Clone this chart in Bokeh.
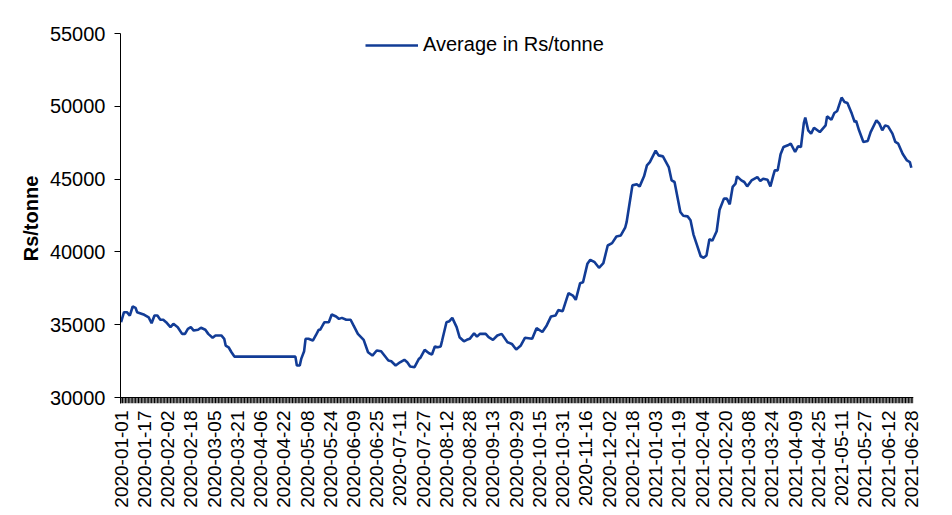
import pandas as pd
from bokeh.plotting import figure
from bokeh.models import Range1d, FixedTicker, Legend, LegendItem, ColumnDataSource, Span
from bokeh.embed import file_html
from bokeh.resources import INLINE

# ---- data ----
dates = [
    "2020-01-01", "2020-01-03", "2020-01-05", "2020-01-07", "2020-01-09", "2020-01-11", "2020-01-12",
    "2020-01-14", "2020-01-17", "2020-01-20", "2020-01-22", "2020-01-24", "2020-01-26", "2020-01-28",
    "2020-01-30", "2020-02-01", "2020-02-04", "2020-02-06", "2020-02-09", "2020-02-12", "2020-02-14",
    "2020-02-16", "2020-02-18", "2020-02-20", "2020-02-23", "2020-02-25", "2020-02-28", "2020-03-01",
    "2020-03-04", "2020-03-06", "2020-03-10", "2020-03-12", "2020-03-13", "2020-03-15", "2020-03-17",
    "2020-03-19", "2020-04-30", "2020-05-01", "2020-05-03", "2020-05-04", "2020-05-06", "2020-05-07",
    "2020-05-09", "2020-05-12", "2020-05-14", "2020-05-16", "2020-05-17", "2020-05-20", "2020-05-23",
    "2020-05-25", "2020-05-28", "2020-05-30", "2020-06-01", "2020-06-04", "2020-06-07", "2020-06-09",
    "2020-06-12", "2020-06-16", "2020-06-19", "2020-06-22", "2020-06-25", "2020-06-28", "2020-07-03",
    "2020-07-05", "2020-07-08", "2020-07-11", "2020-07-14", "2020-07-16", "2020-07-18", "2020-07-21",
    "2020-07-24", "2020-07-25", "2020-07-28", "2020-07-31", "2020-08-02", "2020-08-04", "2020-08-06",
    "2020-08-08", "2020-08-09", "2020-08-12", "2020-08-14", "2020-08-16", "2020-08-19", "2020-08-21",
    "2020-08-24", "2020-08-26", "2020-08-28", "2020-08-31", "2020-09-02", "2020-09-04", "2020-09-08",
    "2020-09-10", "2020-09-13", "2020-09-16", "2020-09-19", "2020-09-23", "2020-09-26", "2020-09-29",
    "2020-10-02", "2020-10-05", "2020-10-10", "2020-10-13", "2020-10-17", "2020-10-20", "2020-10-23",
    "2020-10-26", "2020-10-28", "2020-10-31", "2020-11-04", "2020-11-07", "2020-11-09", "2020-11-12",
    "2020-11-14", "2020-11-17", "2020-11-19", "2020-11-22", "2020-11-25", "2020-11-28", "2020-12-01",
    "2020-12-04", "2020-12-07", "2020-12-10", "2020-12-13", "2020-12-14", "2020-12-16", "2020-12-18",
    "2020-12-21", "2020-12-23", "2020-12-26", "2020-12-28", "2020-12-30", "2021-01-03", "2021-01-05",
    "2021-01-08", "2021-01-12", "2021-01-14", "2021-01-16", "2021-01-20", "2021-01-22", "2021-01-25",
    "2021-01-27", "2021-01-29", "2021-01-31", "2021-02-03", "2021-02-05", "2021-02-07", "2021-02-09",
    "2021-02-11", "2021-02-14", "2021-02-16", "2021-02-19", "2021-02-21", "2021-02-23", "2021-02-25",
    "2021-02-27", "2021-02-28", "2021-03-03", "2021-03-05", "2021-03-07", "2021-03-10", "2021-03-14",
    "2021-03-16", "2021-03-18", "2021-03-21", "2021-03-23", "2021-03-25", "2021-03-26", "2021-03-28",
    "2021-03-30", "2021-04-01", "2021-04-04", "2021-04-06", "2021-04-09", "2021-04-11", "2021-04-13",
    "2021-04-15", "2021-04-16", "2021-04-18", "2021-04-20", "2021-04-22", "2021-04-26", "2021-04-30",
    "2021-05-01", "2021-05-04", "2021-05-06", "2021-05-08", "2021-05-11", "2021-05-13", "2021-05-15",
    "2021-05-18", "2021-05-20", "2021-05-21", "2021-05-23", "2021-05-26", "2021-05-29", "2021-05-31",
    "2021-06-04", "2021-06-06", "2021-06-08", "2021-06-10", "2021-06-12", "2021-06-15", "2021-06-17",
    "2021-06-19", "2021-06-22", "2021-06-25", "2021-06-27", "2021-06-28",
]
average_rs_per_tonne = [
    35170, 35860, 35860, 35630, 36250, 36160, 35860,
    35790, 35680, 35500, 35100, 35630, 35630, 35340,
    35340, 35170, 34830, 35060, 34830, 34370, 34370,
    34720, 34830, 34600, 34650, 34790, 34650, 34370,
    34100, 34260, 34260, 34030, 33570, 33450, 33110,
    32810, 32810, 32200, 32200, 32650, 33180, 34030,
    34030, 33910, 34260, 34650, 34650, 35170, 35170,
    35700, 35560, 35400, 35470, 35340, 35340, 34950,
    34370, 33960, 33110, 32880, 33230, 33180, 32540,
    32490, 32200, 32420, 32590, 32420, 32130, 32080,
    32650, 32720, 33270, 33040, 32950, 33500, 33450,
    33500, 33910, 35170, 35240, 35470, 34830, 34140,
    33860, 33960, 34030, 34410, 34180, 34370, 34370,
    34140, 33960, 34260, 34370, 33800, 33680, 33300,
    33550, 34100, 34030, 34760, 34500, 34950, 35570,
    35630, 36000, 35930, 37170, 37000, 36710, 37850,
    37920, 39180, 39460, 39290, 38910, 39230, 40440,
    40600, 41060, 41130, 41660, 42040, 43310, 44570,
    44640, 44500, 45190, 45940, 46170, 46950, 46630,
    46560, 45830, 44910, 44800, 42740, 42480, 42440,
    42170, 41210, 40600, 39700, 39600, 39760, 40870,
    40770, 41420, 42900, 43660, 43660, 43270, 44460,
    44690, 45190, 44910, 44800, 44500, 44910, 45140,
    44870, 45030, 44960, 44500, 45260, 45600, 45600,
    46700, 47200, 47320, 47430, 46860, 47250, 47200,
    48850, 49220, 48350, 48120, 48530, 48230, 48690,
    49310, 49080, 49540, 49680, 50600, 50300, 50230,
    49500, 48920, 49000, 48350, 47550, 47620, 48230,
    49040, 48810, 48350, 48690, 48620, 48120, 47550,
    47430, 46740, 46280, 46170, 45780,
]
tick_labels = [
    "2020-01-01", "2020-01-17", "2020-02-02", "2020-02-18", "2020-03-05", "2020-03-21",
    "2020-04-06", "2020-04-22", "2020-05-08", "2020-05-24", "2020-06-09", "2020-06-25",
    "2020-07-11", "2020-07-27", "2020-08-12", "2020-08-28", "2020-09-13", "2020-09-29",
    "2020-10-15", "2020-10-31", "2020-11-16", "2020-12-02", "2020-12-18", "2021-01-03",
    "2021-01-19", "2021-02-04", "2021-02-20", "2021-03-08", "2021-03-24", "2021-04-09",
    "2021-04-25", "2021-05-11", "2021-05-27", "2021-06-12", "2021-06-28",
]
y_ticks = [30000, 35000, 40000, 45000, 50000, 55000]
series_name = "Average in Rs/tonne"
y_title = "Rs/tonne"

# ---- build ----
start = pd.Timestamp(dates[0])
day = [(pd.Timestamp(d) - start).days for d in dates]
tick_pos = [(pd.Timestamp(d) - start).days for d in tick_labels]
last_day = day[-1]
all_days = list(range(0, last_day + 2))   # one tick mark per calendar day

FONT = "Liberation Sans"
LINE_COLOR = "#123C96"

Y_MIN, Y_MAX = y_ticks[0], y_ticks[-1]
PLOT_H = 364                              # pixels between Y_MIN and Y_MAX
TICK_PX = 6                               # length of the daily tick marks
y_floor = Y_MIN - TICK_PX * (Y_MAX - Y_MIN) / PLOT_H

p = figure(width=952, height=515, output_backend="svg", toolbar_location=None,
           x_range=Range1d(-0.4, last_day + 1.5), y_range=Range1d(y_floor, Y_MAX),
           min_border_left=120, min_border_right=39, min_border_top=33,
           min_border_bottom=515 - 33 - PLOT_H - TICK_PX)
p.outline_line_color = None
p.xgrid.grid_line_color = None
p.ygrid.grid_line_color = None
p.background_fill_color = "white"
p.border_fill_color = "white"

# category axis line at the bottom value and a tick mark for every day
p.add_layout(Span(location=Y_MIN, dimension="width", line_color="black", line_width=1))
tick_src = ColumnDataSource(dict(x=all_days, y0=[Y_MIN] * len(all_days), y1=[y_floor] * len(all_days)))
p.segment(x0="x", x1="x", y0="y0", y1="y1", source=tick_src, line_color="black", line_width=1)

src = ColumnDataSource(dict(x=day, y=average_rs_per_tonne))
r = p.line("x", "y", source=src, line_color=LINE_COLOR, line_width=2.6)

# x axis: labels every 16 days
xa = p.xaxis[0]
xa.ticker = FixedTicker(ticks=tick_pos, minor_ticks=[])
xa.major_label_overrides = {pos: lab for pos, lab in zip(tick_pos, tick_labels)}
xa.major_label_orientation = 3.14159265 / 2
xa.major_label_text_font = FONT
xa.major_label_text_font_size = "19px"
xa.major_label_text_color = "black"
xa.major_label_standoff = 7
xa.axis_line_color = None
xa.major_tick_out = 0
xa.major_tick_in = 0
xa.major_tick_line_color = None
xa.minor_tick_line_color = None

# y axis
ya = p.yaxis[0]
ya.ticker = FixedTicker(ticks=y_ticks, minor_ticks=[])
ya.major_label_text_font = FONT
ya.major_label_text_font_size = "20px"
ya.major_label_text_color = "black"
ya.major_label_standoff = 9
ya.axis_line_color = "black"
ya.major_tick_out = 6
ya.major_tick_in = 0
ya.minor_tick_line_color = None
ya.axis_label = y_title
ya.axis_label_text_font = FONT
ya.axis_label_text_font_size = "20px"
ya.axis_label_text_font_style = "bold"
ya.axis_label_text_color = "black"
ya.axis_label_standoff = 5

legend = Legend(items=[LegendItem(label=series_name, renderers=[r])],
                location=(245, 341 + TICK_PX), padding=0, margin=0, spacing=0,
                glyph_width=53, glyph_height=22, label_standoff=5, label_height=22,
                label_text_font=FONT, label_text_font_size="20px", label_text_color="black",
                border_line_color=None, background_fill_alpha=0)
p.add_layout(legend)

open("out.html", "w").write(file_html(p, INLINE))
